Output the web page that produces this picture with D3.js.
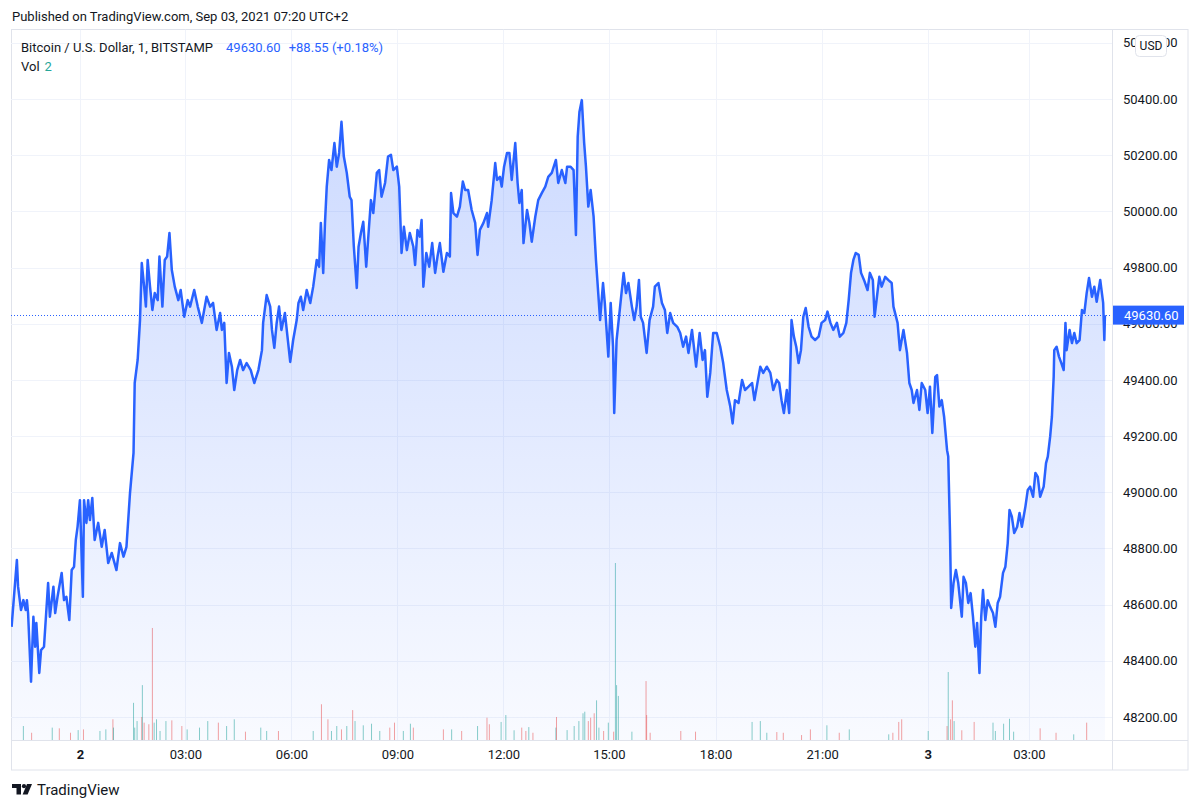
<!DOCTYPE html>
<html><head><meta charset="utf-8">
<script src="https://cdn.jsdelivr.net/npm/d3@7"></script>
<style>
body{margin:0;background:#fff}
svg{display:block}
text{font-family:Roboto,"Noto Sans",sans-serif}
</style>
</head><body>
<svg id="chart" width="1200" height="809"></svg>
<script>
// ---- data (bar offset in 1-minute bars from the "2" (Sep 2, 00:00) bar, close price) ----
const priceBar = [-116,-107,-105,-100,-96,-92,-90,-88,-83,-79,-76,-74,-69,-66,-61,-54,-51,-45,-42,-38,-31,-27,-23,-18,-14,-10,-7,-4,0,5,7,11,14,17,21,25,31,37,42,48,54,62,68,74,79,85,91,93,98,102,105,109,112,115,119,123,127,132,135,140,144,148,152,156,161,167,171,177,183,187,194,200,207,215,221,226,232,238,241,245,249,253,258,262,267,272,277,283,290,296,303,309,311,317,323,326,330,334,338,342,348,353,357,362,368,371,375,379,385,391,396,402,406,409,413,416,419,423,427,432,436,440,444,448,453,458,461,465,470,473,477,481,486,490,494,498,504,508,512,518,523,528,532,538,542,546,550,555,560,566,569,573,577,580,583,588,593,598,603,607,611,617,623,628,630,634,640,645,650,654,659,665,671,675,679,685,691,693,699,705,708,713,716,720,725,729,733,739,743,746,750,753,759,763,767,773,778,784,790,795,801,808,812,818,824,827,833,838,842,845,848,852,856,859,863,867,872,876,883,888,891,897,901,905,907,911,917,923,927,931,937,941,945,949,952,956,962,967,973,976,982,988,993,997,1002,1007,1014,1019,1024,1029,1033,1039,1046,1052,1057,1061,1065,1070,1075,1081,1087,1092,1098,1104,1108,1112,1118,1124,1129,1135,1141,1145,1149,1155,1160,1166,1172,1177,1183,1187,1191,1195,1200,1204,1208,1212,1216,1220,1224,1228,1232,1237,1242,1248,1254,1259,1265,1269,1274,1279,1285,1290,1296,1301,1305,1309,1313,1317,1322,1326,1331,1337,1341,1346,1349,1353,1357,1361,1367,1372,1378,1381,1388,1392,1398,1404,1408,1412,1415,1421,1425,1429,1435,1439,1443,1447,1452,1455,1459,1463,1467,1472,1474,1477,1479,1483,1487,1491,1494,1497,1500,1504,1508,1512,1516,1520,1523,1527,1530,1533,1537,1541,1545,1550,1554,1558,1562,1567,1571,1575,1578,1582,1586,1591,1595,1599,1605,1609,1613,1618,1622,1626,1630,1636,1640,1643,1647,1650,1653,1654,1658,1662,1666,1670,1673,1675,1680,1684,1688,1692,1697,1701,1705,1709,1713,1718,1722,1726,1732,1737,1739,1740];
const priceClose = [48521,48759,48664,48581,48616,48581,48616,48570,48326,48557,48450,48535,48357,48438,48450,48677,48557,48664,48570,48628,48713,48616,48628,48545,48723,48735,48830,48877,48972,48628,48972,48891,48972,48901,48980,48830,48891,48806,48866,48748,48784,48723,48819,48771,48806,48997,49140,49389,49471,49613,49816,49732,49661,49827,49732,49649,49709,49684,49839,49661,49827,49839,49923,49791,49732,49684,49720,49625,49684,49661,49720,49661,49603,49696,49661,49674,49578,49638,49578,49603,49389,49496,49447,49364,49435,49471,49435,49460,49435,49389,49435,49506,49603,49702,49661,49578,49514,49603,49661,49578,49638,49542,49464,49542,49613,49674,49696,49649,49720,49674,49732,49827,49803,49959,49781,49959,50088,50183,50147,50243,50159,50208,50319,50195,50137,50052,50040,49874,49727,49874,49923,49963,49803,49923,50040,49994,50137,50147,50052,50101,50195,50201,50147,50159,50088,49852,49945,49862,49923,49874,49809,49934,49910,49969,49732,49852,49803,49887,49781,49839,49887,49785,49852,49839,50065,49994,49981,50017,50106,50076,50076,50005,49959,49845,49934,49959,49994,49945,50040,50172,50112,50123,50088,50159,50208,50208,50112,50243,50101,50030,50076,49887,50005,49959,49892,49981,50040,50065,50088,50123,50137,50183,50101,50147,50101,50159,50159,50147,49916,50266,50355,50396,50243,50159,50017,50076,49981,49827,49613,49745,49674,49483,49674,49518,49282,49542,49661,49781,49709,49745,49661,49613,49661,49756,49625,49603,49496,49613,49661,49732,49745,49674,49649,49567,49638,49603,49589,49567,49518,49554,49496,49578,49447,49567,49471,49506,49340,49425,49567,49567,49518,49460,49364,49305,49245,49328,49318,49400,49364,49376,49389,49328,49376,49447,49425,49447,49425,49364,49400,49389,49328,49282,49364,49282,49613,49554,49518,49460,49506,49625,49656,49589,49554,49542,49554,49603,49613,49643,49603,49578,49603,49554,49567,49603,49684,49781,49827,49852,49845,49781,49756,49720,49781,49756,49625,49696,49767,49732,49767,49756,49745,49661,49603,49506,49578,49496,49389,49364,49318,49364,49293,49389,49364,49282,49376,49211,49411,49417,49305,49328,49269,49150,49127,48855,48588,48677,48723,48677,48616,48557,48699,48677,48606,48641,48557,48450,48535,48357,48557,48652,48545,48616,48593,48570,48521,48606,48628,48713,48735,48819,48937,48913,48855,48877,48926,48877,48949,49008,49020,48984,49069,49055,48984,49020,49104,49127,49198,49269,49411,49506,49518,49483,49460,49435,49603,49506,49578,49531,49567,49531,49542,49649,49638,49709,49763,49696,49732,49678,49756,49674,49542.05,49630.60];

// volume bars readable above the baseline (bar offset, volume, 1 = up bar / 0 = down bar)
const volBar   = [-96,-82,-47,-35,-16,-3,6,34,44,56,57,91,93,97,105,106,109,117,123,126,130,136,146,156,173,182,203,217,235,249,262,281,307,317,337,396,410,421,427,436,444,453,463,467,481,495,509,526,534,549,561,566,617,631,648,675,691,695,715,723,737,750,757,762,769,808,809,827,839,847,854,857,863,867,873,877,881,889,897,906,909,911,914,937,961,962,968,1020,1045,1141,1155,1166,1183,1194,1225,1240,1268,1289,1306,1373,1380,1390,1395,1440,1472,1474,1478,1481,1484,1497,1518,1550,1554,1568,1578,1585,1630,1657,1687,1709];
const volValue = [7.9,4.1,7.0,6.6,4.1,5.6,6.0,5.1,6.0,11.7,7.0,21.0,7.0,10.7,13.0,31.0,9.8,8.9,63.3,9.8,11.7,5.1,10.7,11.1,7.9,6.0,7.0,10.7,9.8,7.9,11.7,4.7,7.0,5.1,5.1,5.1,20.2,11.7,5.1,7.9,6.0,7.9,16.9,10.7,8.3,9.2,5.1,7.0,9.8,5.1,9.2,7.0,6.0,6.0,5.1,7.9,12.6,8.9,10.2,14.1,5.5,7.0,5.1,7.3,4.1,7.0,13.0,5.6,7.9,10.7,15.1,16.0,10.7,12.6,15.1,22.4,7.0,5.1,9.8,4.7,100,31.0,24.9,4.7,33.3,14.1,4.1,5.1,4.7,10.2,10.7,4.1,4.5,4.1,2.8,6.0,8.3,4.1,6.0,3.2,4.1,10.2,11.7,5.1,7.9,38.4,11.7,22.4,10.7,5.5,10.2,9.8,5.1,9.2,12.0,4.7,6.6,4.1,3.2,9.8];
const volUp    = [1,0,1,0,0,1,0,1,1,0,1,1,1,1,0,1,0,0,0,1,1,1,1,0,0,1,1,1,0,1,1,0,1,1,0,1,0,0,1,1,0,1,0,1,1,1,1,0,0,1,1,0,0,1,0,1,0,0,1,1,1,0,0,1,0,1,0,1,1,1,1,1,0,0,0,1,1,0,1,0,1,1,1,1,0,0,0,0,0,1,1,1,0,0,0,0,1,0,1,1,0,0,0,1,0,1,0,0,1,0,0,1,1,1,1,1,0,0,1,0];

const priceTicks = [48200,48400,48600,48800,49000,49200,49400,49600,49800,50000,50200,50400,50600];
const timeTickBar = [0,179,359,539,719,898,1079,1260,1439,1611];
const timeTickLabel = ["2","03:00","06:00","09:00","12:00","15:00","18:00","21:00","3","03:00"];
const timeTickBold = [true,false,false,false,false,false,false,false,true,false];

const lastPrice = 49630.60;
const headerTitle = "Published on TradingView.com, Sep 03, 2021 07:20 UTC+2";
const legendName = "Bitcoin / U.S. Dollar, 1, BITSTAMP";
const legendPrice = "49630.60";
const legendChange = "+88.55 (+0.18%)";
const legendVol = "2";

// ---- layout ----
const L = 11, R = 1112, T = 29.5, B = 740, AXR = 1188, TB = 770;
const svg = d3.select("#chart");
const ink = "#131722", gridC = "#f0f3fa", borderC = "#e0e3eb", blue = "#2962ff";

const x = d3.scaleLinear().domain([-117, 1752]).range([L, R]);
const y = d3.scaleLinear().domain([48200, 50400]).range([717, 99]);
const v = d3.scaleLinear().domain([0, 100]).range([B, 563]);

const defs = svg.append("defs");
defs.append("clipPath").attr("id","plot").append("rect")
  .attr("x",L).attr("y",T).attr("width",R-L).attr("height",B-T);
const g = defs.append("linearGradient").attr("id","fill")
  .attr("gradientUnits","userSpaceOnUse").attr("x1",0).attr("x2",0)
  .attr("y1", y(d3.max(priceClose))).attr("y2", B);
g.append("stop").attr("offset",0).attr("stop-color",blue).attr("stop-opacity",0.24);
g.append("stop").attr("offset",1).attr("stop-color",blue).attr("stop-opacity",0.03);

// header
svg.append("text").attr("x",12).attr("y",21).attr("font-size",13).attr("fill",ink).text(headerTitle);

// frame
svg.append("rect").attr("x",L+0.5).attr("y",T).attr("width",AXR-L-0.5).attr("height",TB-T)
  .attr("fill","none").attr("stroke",borderC);
svg.append("line").attr("x1",R+0.5).attr("x2",R+0.5).attr("y1",T).attr("y2",TB).attr("stroke",borderC);
svg.append("line").attr("x1",L).attr("x2",AXR).attr("y1",B+0.5).attr("y2",B+0.5).attr("stroke",borderC);

const plot = svg.append("g").attr("clip-path","url(#plot)");
// grid
plot.selectAll(".vg").data(timeTickBar).join("line")
  .attr("x1",d=>Math.round(x(d))+0.5).attr("x2",d=>Math.round(x(d))+0.5)
  .attr("y1",T).attr("y2",B).attr("stroke",gridC);
plot.selectAll(".hg").data(priceTicks).join("line")
  .attr("x1",L).attr("x2",R).attr("y1",d=>Math.round(y(d))+0.5).attr("y2",d=>Math.round(y(d))+0.5)
  .attr("stroke",gridC);

// volume
plot.selectAll(".vb").data(volBar).join("rect")
  .attr("x",(d)=>x(d)-0.5).attr("width",1)
  .attr("y",(d,i)=>v(volValue[i])).attr("height",(d,i)=>B - v(volValue[i]))
  .attr("fill",(d,i)=>volUp[i] ? "rgba(38,166,154,0.55)" : "rgba(239,83,80,0.55)");

// area + line
const pts = priceBar.map((b,i)=>[b, priceClose[i]]);
plot.append("path").datum(pts)
  .attr("d", d3.area().x(d=>x(d[0])).y0(B).y1(d=>y(d[1])))
  .attr("fill","url(#fill)");
plot.append("path").datum(pts)
  .attr("d", d3.line().x(d=>x(d[0])).y(d=>y(d[1])))
  .attr("fill","none").attr("stroke",blue).attr("stroke-width",2.5).attr("stroke-linejoin","round");

// last price dotted line
plot.append("line").attr("x1",L).attr("x2",R).attr("y1",Math.round(y(lastPrice))+0.5).attr("y2",Math.round(y(lastPrice))+0.5)
  .attr("stroke",blue).attr("stroke-width",1).attr("stroke-dasharray","1,2");

// price axis
const ya = svg.append("g").attr("transform",`translate(${R},0)`)
  .call(d3.axisRight(y).tickValues(priceTicks).tickFormat(d=>d.toFixed(2)).tickSize(0).tickPadding(11));
ya.select(".domain").remove();
ya.selectAll("text").attr("font-size",13).attr("fill",ink).attr("font-family","Roboto,'Noto Sans',sans-serif");

// time axis
const xa = svg.append("g").attr("transform",`translate(0,${B})`)
  .call(d3.axisBottom(x).tickValues(timeTickBar).tickFormat((d,i)=>timeTickLabel[i]).tickSize(0).tickPadding(10));
xa.select(".domain").remove();
xa.selectAll("text").attr("font-size",13).attr("fill",ink).attr("font-family","Roboto,'Noto Sans',sans-serif")
  .attr("font-weight",(d,i)=>timeTickBold[i] ? "bold" : "normal");

// last price label
svg.append("rect").attr("x",R+1).attr("y",y(lastPrice)-9.5).attr("width",71).attr("height",19).attr("fill",blue);
svg.append("text").attr("x",R+12).attr("y",y(lastPrice)).attr("dy","0.35em")
  .attr("font-size",13).attr("fill","#fff").text(lastPrice.toFixed(2));

// USD badge
svg.append("rect").attr("x",1135.5).attr("y",35.5).attr("width",31).attr("height",21).attr("rx",4)
  .attr("fill","#fff").attr("stroke",borderC);
svg.append("text").attr("x",1151).attr("y",46).attr("dy","0.35em").attr("text-anchor","middle")
  .attr("font-size",12).attr("fill",ink).text("USD");

// legend
const lg = svg.append("text").attr("x",21).attr("y",47).attr("dy","0.35em").attr("font-size",13);
lg.append("tspan").attr("fill",ink).text(legendName);
lg.append("tspan").attr("fill",blue).attr("dx",13).text(legendPrice);
lg.append("tspan").attr("fill",blue).attr("dx",8).text(legendChange);
const vl = svg.append("text").attr("x",21).attr("y",66).attr("dy","0.35em").attr("font-size",13);
vl.append("tspan").attr("fill",ink).text("Vol");
vl.append("tspan").attr("fill","#26a69a").attr("dx",5).text(legendVol);

// footer logo
const lo = svg.append("g").attr("fill",ink);
lo.append("path").attr("d","M12,784 H21 V794.5 H16.5 V788 H12 Z");
lo.append("circle").attr("cx",24).attr("cy",786.2).attr("r",2.1);
lo.append("path").attr("d","M27,784 H32 L27.6,794.5 H22.6 Z");
svg.append("text").attr("x",37).attr("y",790).attr("dy","0.35em").attr("font-size",15).attr("fill",ink).text("TradingView");
</script>
</body></html>
